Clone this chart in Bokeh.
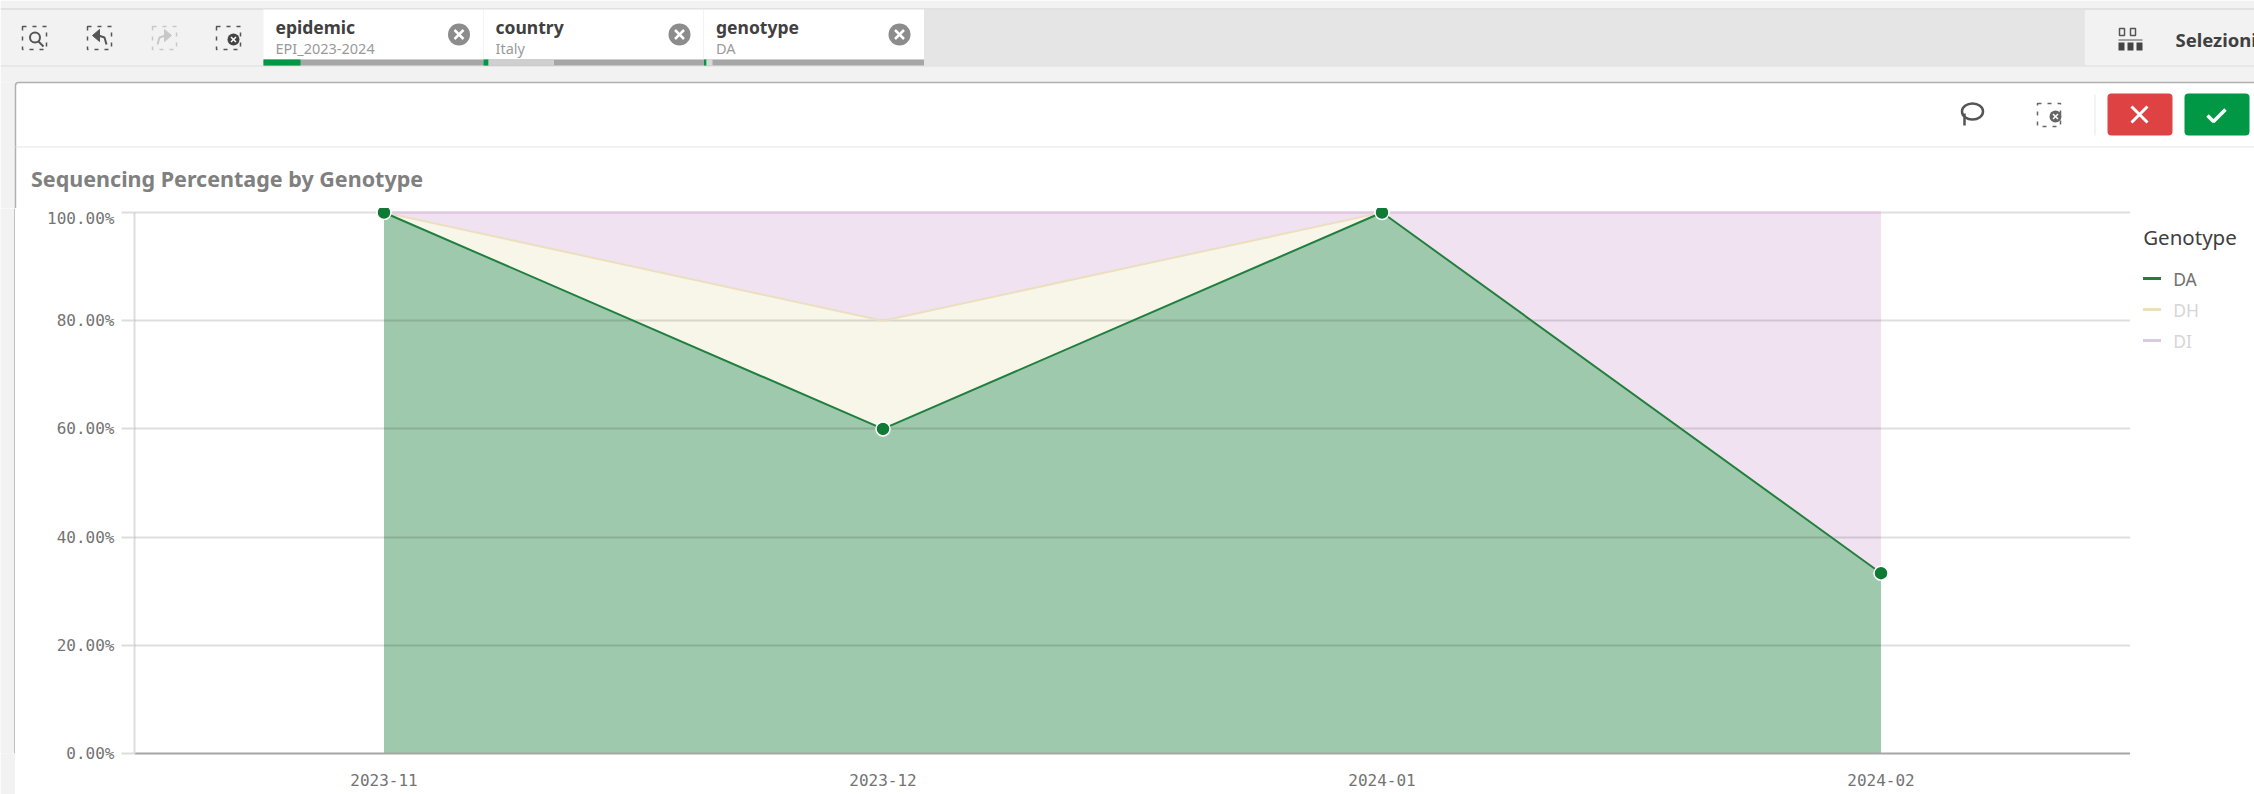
from bokeh.plotting import figure
from bokeh.embed import file_html
from bokeh.resources import INLINE
from bokeh.layouts import column, row
from bokeh.core.properties import value
from bokeh.models import (FactorRange, Range1d, FixedTicker, PrintfTickFormatter)
import numpy as np

months = ["2023-11", "2023-12", "2024-01", "2024-02"]
da = [100.0, 60.0, 100.0, 33.33]
dh = [0.0, 20.0, 0.0, 0.0]
di = [0.0, 20.0, 0.0, 66.67]
y_ticks = [0, 20, 40, 60, 80, 100]
title_text = "Sequencing Percentage by Genotype"
legend_title = "Genotype"
legend_labels = ["DA", "DH", "DI"]
filters = [("epidemic", "EPI_2023-2024"), ("country", "Italy"), ("genotype", "DA")]

C_DA, C_DH, C_DI = "#1f7f40", "#ecdfc0", "#e3c5e3"
F_DA, F_DH, F_DI = "#9fc9ac", "#f8f6e8", "#f0e2f0"
UI = "Noto Sans"
MONO = "DejaVu Sans Mono"
W, H, HEAD = 2254, 794, 208
RIGHT = 2130
BOTTOM = 753

# ---- header: a figure whose data space is its own pixels -------------------
h = figure(width=W, height=HEAD, output_backend="svg", toolbar_location=None,
           x_range=Range1d(0, W), y_range=Range1d(HEAD, 0),
           min_border=0, min_border_left=0, min_border_right=0, min_border_top=0, min_border_bottom=0)
h.xaxis.visible = False
h.yaxis.visible = False
h.grid.visible = False
h.outline_line_color = None
h.background_fill_color = "#ffffff"
h.border_fill_color = "#ffffff"


def box(x0, y0, x1, y1, fill=None, line=None, lw=1, dash="solid", radius=0):
    h.quad(left=[x0], right=[x1], top=[y0], bottom=[y1], fill_color=fill, fill_alpha=1 if fill else 0,
           line_color=line, line_width=lw, line_alpha=1 if line else 0, line_dash=dash, border_radius=radius)


def seg(pts, line, lw=1):
    h.line([a for a, _ in pts], [b for _, b in pts], line_color=line, line_width=lw)


def tri(pts, fill):
    h.patch([a for a, _ in pts], [b for _, b in pts], fill_color=fill, line_color=fill)


def dot(cx, cy, r, fill):
    h.circle([cx], [cy], radius=r, fill_color=fill, line_color=None)


def txt(x, y, s, size, color, bold=False, font=UI):
    h.text([x], [y], text=[s], text_font=value(font), text_font_size=f"{size}px", text_color=color,
           text_font_style="bold" if bold else "normal", text_baseline="middle", text_align="left")


box(0, 0, W, 82, fill="#f2f2f2")
box(0, 82, 15, HEAD, fill="#f2f2f2")
box(0, 8, W, 9, fill="#cfcfcf")
box(923, 9, 2083, 65, fill="#e5e5e5")
box(2083, 9, 2084, 65, fill="#dcdcdc")
box(0, 65, W, 66, fill="#dcdcdc")
box(15, 82, W + 10, HEAD + 10, fill="#ffffff", line="#b0b0b0", lw=1.5, radius=3)
box(15, 146, W, 147, fill="#e6e6e6")

tab_x = [263, 483, 703.5, 923.5]
for (name, sel), x0, x1 in zip(filters, tab_x[:-1], tab_x[1:]):
    box(x0, 9, x1, 59, fill="#ffffff")
    box(x0, 59, x1, 65, fill="#a6a6a6")
    if x0 != tab_x[-2]:
        box(x1 - 0.5, 9, x1 + 0.5, 59, fill="#e8e8e8")
    txt(x0 + 12, 26, name, 17.5, "#404040", bold=True)
    txt(x0 + 12, 47, sel, 14.5, "#9a9a9a")
    cx, cy = x1 - 24.5, 34
    dot(cx, cy, 11, "#8c8c8c")
    seg([(cx - 4.5, cy - 4.5), (cx + 4.5, cy + 4.5)], "#ffffff", 2.5)
    seg([(cx - 4.5, cy + 4.5), (cx + 4.5, cy - 4.5)], "#ffffff", 2.5)
box(263, 59, 300, 65, fill="#009845")
box(483, 59, 488, 65, fill="#009845")
box(488, 59, 553.5, 65, fill="#cfcfcf")
box(703.5, 59, 706, 65, fill="#009845")
box(706, 59, 712, 65, fill="#d9d9d9")

for cx, col in [(34, "#555555"), (99, "#555555"), (164, "#c8c8c8"), (228, "#555555")]:
    box(cx - 12, 26, cx + 12, 49, line=col, lw=1.5, dash="4 6")
h.circle([34.5], [37], radius=5, fill_alpha=0, line_color="#555555", line_width=2)
seg([(38, 41), (43, 46)], "#555555", 2)
tri([(92, 35), (99, 29), (99, 41)], "#555555")
seg([(98, 35), (104, 37), (106, 44)], "#555555", 2)
tri([(171, 35), (164, 29), (164, 41)], "#c8c8c8")
seg([(165, 35), (159, 37), (157, 44)], "#c8c8c8", 2)
dot(233, 39, 6, "#444444")
seg([(230.5, 36.5), (235.5, 41.5)], "#ffffff", 1.5)
seg([(230.5, 41.5), (235.5, 36.5)], "#ffffff", 1.5)

box(2119, 28, 2124, 35, line="#555555", lw=1.5)
box(2130, 28, 2135, 35, line="#555555", lw=1.5)
box(2118, 39, 2142, 40, fill="#555555")
for x in (2118, 2127, 2136):
    box(x, 42, x + 6, 50, fill="#444444")
txt(2175, 39, "Selezioni", 18.5, "#404040", bold=True)

h.ellipse([1972], [111], width=[21], height=[16], fill_alpha=0, line_color="#555555", line_width=2.5)
seg([(1964, 113), (1964, 125)], "#555555", 2.5)
box(2037, 103, 2060, 126, line="#666666", lw=1.5, dash="4 6")
dot(2055, 116, 6, "#666666")
seg([(2052.5, 113.5), (2057.5, 118.5)], "#ffffff", 1.5)
seg([(2052.5, 118.5), (2057.5, 113.5)], "#ffffff", 1.5)
box(2094, 94, 2095, 135, fill="#e8e8e8")
box(2107, 93, 2172, 135, fill="#de4242", radius=4)
box(2184, 93, 2249, 135, fill="#009845", radius=4)
seg([(2131, 106), (2147, 122)], "#ffffff", 3)
seg([(2131, 122), (2147, 106)], "#ffffff", 3)
seg([(2207, 115), (2213, 121), (2225, 109)], "#ffffff", 3.5)

txt(30.5, 178, title_text, 21.5, "#808080", bold=True)

# ---- left gutter -----------------------------------------------------------
g = figure(width=15, height=H - HEAD, output_backend="svg", toolbar_location=None,
           x_range=Range1d(0, 15), y_range=Range1d(0, 1),
           min_border_left=0, min_border_right=0, min_border_top=0, min_border_bottom=H - BOTTOM)
g.xaxis.visible = False
g.yaxis.visible = False
g.grid.visible = False
g.outline_line_color = None
g.background_fill_color = "#f2f2f2"
g.border_fill_color = "#f2f2f2"
g.line([14.5, 14.5], [0, 1], line_color="#b0b0b0", line_width=1.5)

# ---- chart ----------------------------------------------------------------
p = figure(width=RIGHT - 15, height=H - HEAD, output_backend="svg", toolbar_location=None,
           x_range=FactorRange(factors=months, range_padding=0),
           y_range=Range1d(0, 100.74),
           min_border_left=134 - 15, min_border_right=0, min_border_top=0, min_border_bottom=H - BOTTOM)
p.outline_line_color = None
p.border_fill_color = "#ffffff"
p.background_fill_color = "#ffffff"

top_da = np.array(da)
top_dh = top_da + np.array(dh)
top_di = top_dh + np.array(di)
zero = np.zeros(len(months))

p.varea(months, top_dh, top_di, fill_color=F_DI)
p.varea(months, top_da, top_dh, fill_color=F_DH)
p.varea(months, zero, top_da, fill_color=F_DA)

p.line(months, top_di, line_color=C_DI, line_width=2, level="annotation")
p.line(months, top_dh, line_color=C_DH, line_width=2, level="annotation")
p.line(months, top_da, line_color=C_DA, line_width=2, level="annotation")
p.scatter(months, top_da, size=14, fill_color="#0f7a35", line_color="#ffffff", line_width=1.5, level="annotation")

p.xgrid.visible = False
p.ygrid.ticker = FixedTicker(ticks=y_ticks)
p.ygrid.grid_line_color = "#000000"
p.ygrid.grid_line_alpha = 0.13
p.ygrid.grid_line_width = 2
p.ygrid.level = "guide"

p.yaxis.ticker = FixedTicker(ticks=y_ticks)
p.yaxis.formatter = PrintfTickFormatter(format="%.2f%%")
p.yaxis.bounds = (0, 100)
p.yaxis.axis_line_color = "#dddddd"
p.yaxis.axis_line_width = 2
p.yaxis.major_tick_out = 13
p.yaxis.major_tick_in = 0
p.yaxis.major_tick_line_color = "#dddddd"
p.yaxis.major_tick_line_width = 2
p.yaxis.minor_tick_line_color = None
p.yaxis.major_label_standoff = 7
p.yaxis.major_label_text_font = MONO
p.yaxis.major_label_text_font_size = "16px"
p.yaxis.major_label_text_color = "#737373"

p.xaxis.axis_line_color = "#a6a6a6"
p.xaxis.axis_line_width = 2
p.xaxis.major_tick_line_color = None
p.xaxis.minor_tick_line_color = None
p.xaxis.major_label_standoff = 14
p.xaxis.major_label_text_font = MONO
p.xaxis.major_label_text_font_size = "16px"
p.xaxis.major_label_text_color = "#737373"

# ---- legend panel, its data space is page pixels ---------------------------
lf = figure(width=W - RIGHT, height=H - HEAD, output_backend="svg", toolbar_location=None,
            x_range=Range1d(RIGHT, W), y_range=Range1d(BOTTOM, HEAD),
            min_border_left=0, min_border_right=0, min_border_top=0, min_border_bottom=H - BOTTOM)
lf.xaxis.visible = False
lf.yaxis.visible = False
lf.grid.visible = False
lf.outline_line_color = None
lf.background_fill_color = "#ffffff"
lf.border_fill_color = "#ffffff"

lf.text([2142.7], [236], text=[legend_title], text_font=value(UI), text_font_size="20.5px", text_color="#404040",
        text_baseline="middle", text_align="left")
for label, line_col, text_col, y in zip(legend_labels, [C_DA, C_DH, C_DI],
                                        ["#707070", "#d6d6d6", "#d6d6d6"], [278, 309, 340]):
    lf.line([2142.5, 2160.5], [y, y], line_color=line_col, line_width=3)
    lf.text([2172.7], [y], text=[label], text_font=value(UI), text_font_size="17.5px", text_color=text_col,
            text_baseline="middle", text_align="left")

page = column(h, row(g, p, lf, spacing=0), spacing=0)
open("out.html", "w").write(file_html(page, INLINE))
